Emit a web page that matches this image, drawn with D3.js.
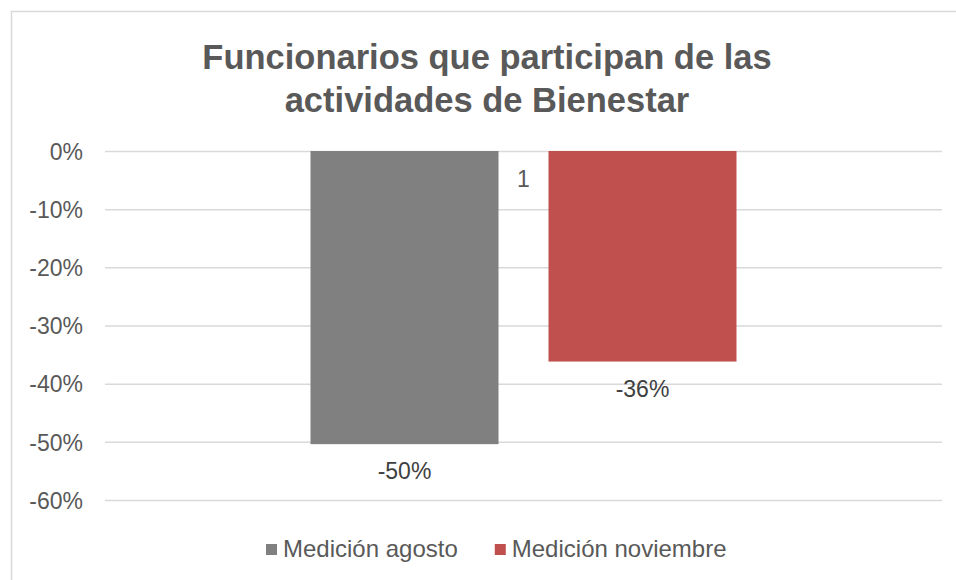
<!DOCTYPE html>
<html>
<head>
<meta charset="utf-8">
<script src="https://cdn.jsdelivr.net/npm/d3@7"></script>
<style>
html,body{margin:0;padding:0;background:#fff;}
svg{display:block;font-family:"Liberation Sans",Arial,sans-serif;}
</style>
</head>
<body>
<svg id="chart" width="956" height="580"></svg>
<script>
const titleLines = ["Funcionarios que participan de las", "actividades de Bienestar"];
const categories = ["1"];
const seriesNames = ["Medición agosto", "Medición noviembre"];
const seriesValues = [-0.504, -0.362];
const seriesColors = ["#808080", "#C0504D"];
const yTicks = [0, -0.1, -0.2, -0.3, -0.4, -0.5, -0.6];

const svg = d3.select("#chart");
const W = 956, H = 580;
const plot = {left: 105, right: 942, top: 151, bottom: 500};
const pct = v => d3.format(".0%")(v).replace("\u2212", "-");

// chart border
svg.append("rect").attr("x", 11.5).attr("y", 11.5).attr("width", W + 20).attr("height", H + 20)
  .attr("fill", "#fff").attr("stroke", "#d9d9d9").attr("stroke-width", 1.5);

// title
svg.append("text").attr("x", 487).attr("y", 69).attr("text-anchor", "middle")
  .attr("font-size", 34.5).attr("font-weight", "bold").attr("fill", "#595959")
  .selectAll("tspan").data(titleLines).join("tspan")
  .attr("x", 487).attr("dy", (d, i) => i === 0 ? 0 : 43).text(d => d);

const y = d3.scaleLinear().domain([-0.6, 0]).range([plot.bottom, plot.top]);
const x0 = d3.scaleBand().domain(categories).range([plot.left, plot.right]).paddingInner(0).paddingOuter(0.4824);
const x1 = d3.scaleBand().domain(seriesNames).range([0, x0.bandwidth()]).paddingInner(0.21).paddingOuter(0);

// gridlines + y labels
const yAxis = d3.axisLeft(y).tickValues(yTicks).tickFormat(pct).tickSize(-(plot.right - plot.left)).tickPadding(22);
const gy = svg.append("g").attr("transform", `translate(${plot.left},0)`).call(yAxis);
gy.select(".domain").remove();
gy.selectAll(".tick line").attr("stroke", "#d9d9d9").attr("stroke-width", 1.5);
gy.selectAll(".tick text").attr("fill", "#595959").attr("font-size", 23)
  .attr("font-family", "Liberation Sans, Arial, sans-serif").attr("dy", "0.36em");

// category label
const xAxis = d3.axisBottom(x0).tickSize(0).tickPadding(20);
const gx = svg.append("g").attr("transform", `translate(0,${y(0)})`).call(xAxis);
gx.select(".domain").remove();
gx.selectAll(".tick text").attr("fill", "#595959").attr("font-size", 23)
  .attr("font-family", "Liberation Sans, Arial, sans-serif");

// bars
const data = seriesNames.map((s, i) => ({cat: categories[0], series: s, value: seriesValues[i], color: seriesColors[i]}));
const g = svg.append("g");
g.selectAll("rect.bar").data(data).join("rect").attr("class", "bar")
  .attr("x", d => x0(d.cat) + x1(d.series))
  .attr("width", x1.bandwidth())
  .attr("y", d => y(0))
  .attr("height", d => y(d.value) - y(0))
  .attr("fill", d => d.color);

// data labels
g.selectAll("text.lbl").data(data).join("text").attr("class", "lbl")
  .attr("x", d => x0(d.cat) + x1(d.series) + x1.bandwidth() / 2)
  .attr("y", d => y(d.value) + 35)
  .attr("text-anchor", "middle").attr("font-size", 23).attr("fill", "#404040")
  .text(d => pct(d.value));

// legend
const leg = svg.append("g");
let lx = 266;
const legY = 557;
seriesNames.forEach((s, i) => {
  leg.append("rect").attr("x", lx).attr("y", legY - 13).attr("width", 11).attr("height", 11).attr("fill", seriesColors[i]);
  const t = leg.append("text").attr("x", lx + 17).attr("y", legY).attr("font-size", 24).attr("fill", "#595959").text(s);
  lx = lx + 17 + t.node().getComputedTextLength() + 37;
});
</script>
</body>
</html>
